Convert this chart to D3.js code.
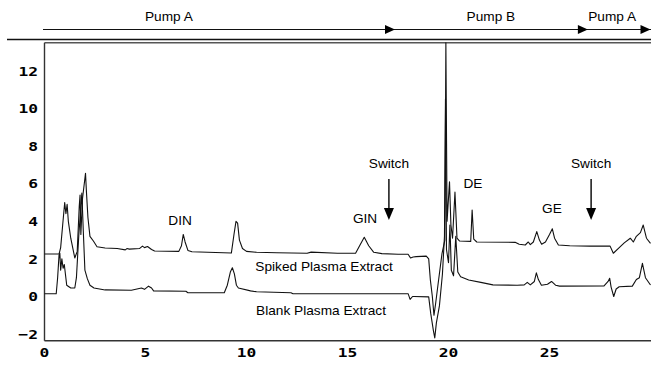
<!DOCTYPE html>
<html><head><meta charset="utf-8">
<script src="https://cdn.jsdelivr.net/npm/d3@7"></script>
<style>body{margin:0;background:#fff}svg{display:block}</style>
</head><body>
<script>
// ---- data (time in min, response) ----
const spikedT = [0,0.72,0.8,0.9,1.0,1.06,1.12,1.18,1.3,1.5,1.62,1.72,1.76,1.8,1.88,2.03,2.08,2.15,2.25,2.42,2.6,3.0,3.6,4.0,4.08,4.2,4.7,4.85,4.95,5.1,5.3,5.45,6.65,6.78,6.87,6.96,7.1,7.3,9.25,9.38,9.48,9.56,9.65,9.8,10.0,10.5,11.5,13.0,13.2,14.5,15.4,15.6,15.83,16.05,16.3,16.7,17.5,18.0,18.12,18.25,18.4,18.9,19.02,19.1,19.2,19.28,19.36,19.5,19.68,19.82,19.87,19.93,20.05,20.12,20.2,20.32,20.42,20.55,21.1,21.17,21.25,21.4,23.3,23.5,23.8,23.95,24.05,24.2,24.37,24.5,24.61,24.8,25.0,25.14,25.25,25.44,26.0,27.0,28.0,28.16,28.4,28.7,29.0,29.15,29.3,29.5,29.64,29.8,30.0];
const spikedV = [2.26,2.26,2.6,3.8,5.0,4.4,4.9,4.0,3.1,2.05,2.4,4.8,5.4,3.3,5.2,6.55,5.5,4.2,3.2,2.95,2.65,2.58,2.55,2.48,2.55,2.52,2.55,2.68,2.6,2.66,2.5,2.42,2.4,2.7,3.3,2.9,2.45,2.38,2.31,3.3,4.0,3.9,3.0,2.55,2.4,2.35,2.33,2.3,2.36,2.3,2.3,2.7,3.15,2.7,2.35,2.28,2.25,2.25,2.05,2.1,2.12,2.15,2.0,0.9,0.0,-1.0,-0.4,0.8,2.3,3.0,13.5,4.0,6.1,3.8,3.1,5.55,3.1,2.95,2.93,4.6,3.05,2.9,2.88,2.78,2.74,2.9,2.76,2.9,3.45,3.0,2.78,2.9,3.3,3.6,3.1,2.74,2.7,2.68,2.68,2.3,2.55,2.85,3.1,2.9,3.2,3.4,3.8,3.1,2.83];
const blankT = [0,0.58,0.65,0.72,0.76,0.8,0.86,0.92,0.98,1.1,1.3,1.5,1.58,1.7,1.85,1.92,2.0,2.12,2.25,2.45,3.0,4.3,4.8,4.95,5.15,5.3,5.4,7.0,7.1,8.9,9.05,9.2,9.3,9.4,9.5,9.6,10.2,10.5,12.2,12.3,18.0,18.1,18.22,18.3,19.02,19.12,19.25,19.32,19.4,19.55,19.7,19.8,19.85,19.9,20.0,20.07,20.14,20.25,20.36,20.46,20.6,21.0,21.6,22.2,23.4,23.75,23.9,24.05,24.25,24.35,24.45,24.6,24.9,25.1,25.3,25.5,27.7,27.9,27.98,28.05,28.18,28.3,28.45,29.1,29.3,29.45,29.6,29.75,30.0];
const blankV = [0.15,0.15,1.0,2.2,2.3,1.4,2.0,1.5,1.7,0.6,0.45,0.45,1.0,3.3,5.5,3.5,1.4,0.95,0.6,0.45,0.35,0.33,0.45,0.38,0.55,0.45,0.3,0.28,0.2,0.2,0.6,1.3,1.53,1.2,0.6,0.45,0.3,0.25,0.2,0.15,0.15,-0.15,0.0,0.0,-0.02,-0.9,-1.8,-2.2,-1.4,-0.5,1.2,3.2,10.5,2.5,1.8,3.8,1.4,1.1,3.2,1.3,1.05,0.88,0.75,0.62,0.6,0.62,0.75,0.62,0.8,1.26,0.9,0.6,0.65,0.8,0.6,0.55,0.56,0.8,0.97,0.5,0.0,0.4,0.52,0.55,0.9,1.0,1.76,1.0,0.61];

const xTicks = [0,5,10,15,20,25];
const yTicks = [-2,0,2,4,6,8,10,12];

const peakLabels = ["DIN","GIN","DE","GE"];
const peakT = [6.71,15.87,21.21,25.12];
const peakV = [4.02,4.12,5.98,4.65];

const traceLabels = ["Spiked Plasma Extract","Blank Plasma Extract"];
const traceLabelT = [13.84,13.69];
const traceLabelV = [1.57,-0.77];

const switchT = [17.05,27.06];
const switchTextV = 7.05, switchTopV = 6.25, switchTipV = 4.07;

const pumpLabels = ["Pump A","Pump B","Pump A"];
const pumpLabelT = [6.16,22.1,28.1];
const pumpArrowT = [17.35,26.9,30.0];

// ---- layout ----
const W = 651, H = 365;
const x = d3.scaleLinear().domain([0,30]).range([44.5,650.5]);
const y = d3.scaleLinear().domain([0,12]).range([296.5,70.9]);
const frameTop = 42.7, frameBottom = 340.7;

const svg = d3.select("body").append("svg").attr("width",W).attr("height",H);

function txt(px, py, s, o) {
  return svg.append("text")
    .attr("transform", `translate(${px},${py}) scale(${o.sx||1},1)`)
    .attr("text-anchor", o.anchor||"middle")
    .attr("font-family", o.family||"'Liberation Sans', Arial, sans-serif")
    .attr("font-size", o.size||12)
    .attr("font-weight", o.weight||"normal")
    .attr("fill", "#000")
    .text(s);
}

// frame
svg.append("line").attr("x1",7).attr("x2",W).attr("y1",39.5).attr("y2",39.5).attr("stroke","#111").attr("stroke-width",1.4);
svg.append("line").attr("x1",x(0)).attr("x2",W).attr("y1",frameTop).attr("y2",frameTop).attr("stroke","#555").attr("stroke-width",1.4);
svg.append("line").attr("x1",x(0)).attr("x2",x(0)).attr("y1",frameTop).attr("y2",frameBottom).attr("stroke","#333").attr("stroke-width",1.4);
svg.append("line").attr("x1",x(0)).attr("x2",W).attr("y1",frameBottom).attr("y2",frameBottom).attr("stroke","#333").attr("stroke-width",1.4);

// tick labels
const tickFont = "'DejaVu Sans Mono', monospace";
yTicks.forEach(v => {
  txt(38, y(v)+4.7, v < 0 ? "\u2212" + Math.abs(v) : String(v), {anchor:"end", family:tickFont, size:13, weight:"bold", sx:1.25});
});
xTicks.forEach(t => {
  txt(x(t), 357.3, String(t), {anchor:"middle", family:tickFont, size:13, weight:"bold", sx:1.25});
});

// traces
const line = d3.line().x(d => x(d[0])).y(d => y(d[1]));
const spiked = spikedT.map((t,i) => [t, spikedV[i]]);
const blank = blankT.map((t,i) => [t, blankV[i]]);
[spiked, blank].forEach(data => {
  svg.append("path").attr("d", line(data)).attr("fill","none")
    .attr("stroke","#111").attr("stroke-width",1.1).attr("stroke-linejoin","round");
});

// peak labels
peakLabels.forEach((s,i) => txt(x(peakT[i]), y(peakV[i])+4.3, s, {sx:1.14}));
traceLabels.forEach((s,i) => txt(x(traceLabelT[i]), y(traceLabelV[i])+4.3, s, {sx:1.14}));

// switch arrows
switchT.forEach(t => {
  const cx = x(t);
  txt(cx, y(switchTextV)+4.3, "Switch", {sx:1.14});
  svg.append("line").attr("x1",cx).attr("x2",cx).attr("y1",y(switchTopV)).attr("y2",y(switchTipV)-10)
    .attr("stroke","#000").attr("stroke-width",1.4);
  const tip = y(switchTipV);
  svg.append("path").attr("d",`M${cx-5},${tip-12}L${cx+5},${tip-12}L${cx},${tip}Z`).attr("fill","#000");
});

// pump arrows
const pumpY = 29.5;
svg.append("line").attr("x1",43).attr("x2",W).attr("y1",pumpY).attr("y2",pumpY).attr("stroke","#111").attr("stroke-width",1.1);
pumpArrowT.forEach(t => {
  const tx = Math.min(x(t), W);
  svg.append("path").attr("d",`M${tx-10},${pumpY-4.5}L${tx},${pumpY}L${tx-10},${pumpY+4.5}Z`).attr("fill","#000");
});
pumpLabels.forEach((s,i) => txt(x(pumpLabelT[i]), 20.7, s, {sx:1.14}));
</script>
</body></html>
